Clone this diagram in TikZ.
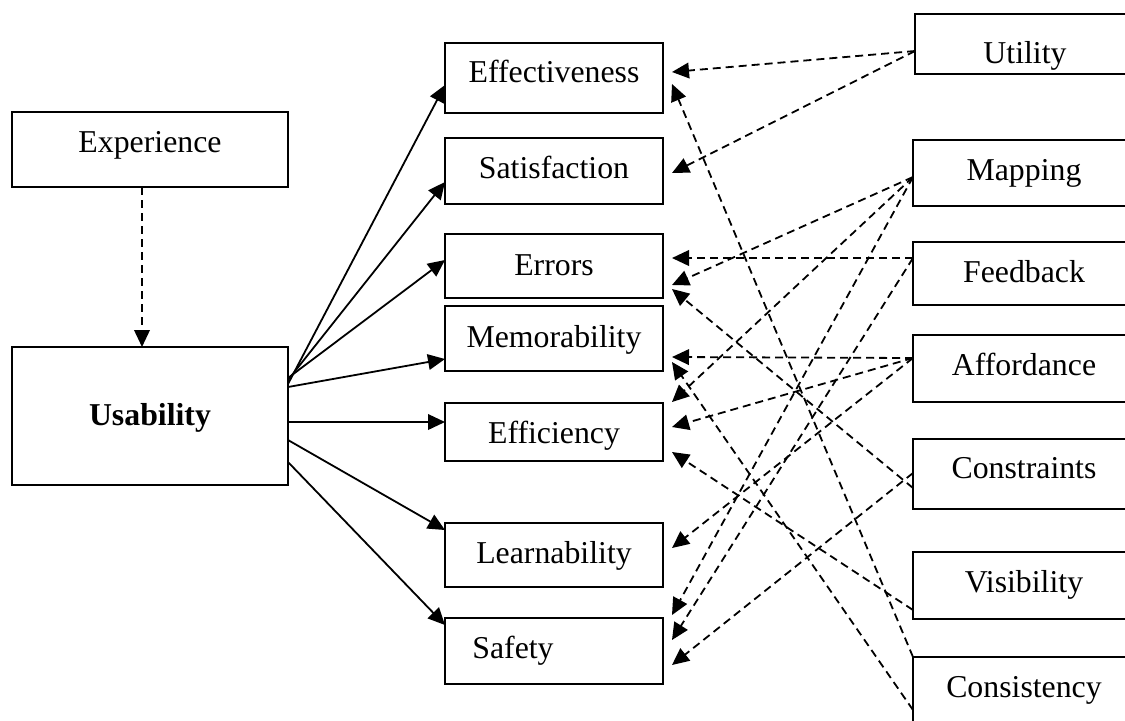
\documentclass[tikz,border=0pt]{standalone}
\usepackage{fontspec}
\setmainfont{Liberation Serif}
\usetikzlibrary{arrows.meta,calc}
\begin{document}
\begin{tikzpicture}[x=0.5pt,y=-0.5pt,
  box/.style={draw,line width=1pt,inner sep=0pt,outer sep=0pt},
  midbox/.style={box,minimum width=109pt},
  rbox/.style={box,minimum width=111pt},
  lbox/.style={box,minimum width=138pt},
  txt/.style={anchor=base,inner sep=0pt,font=\fontsize{15.9}{19}\selectfont},
  solidarr/.style={-{Triangle[length=8.5pt,width=7.8pt]},line width=0.9pt},
  dasharr/.style={solidarr,dash pattern=on 4pt off 2.5pt}]
\useasboundingbox (0,0) rectangle (1125,720);
\clip (0,0) rectangle (1125,720);

% left boxes
\node[lbox,minimum height=37.5pt] (exp) at (150,149.5) {};
\node[lbox,minimum height=69pt] (usab) at (150,416) {};
\node[txt] (expT) at (150,152) {Experience};
\node[txt] (usabT) at (150,425) {\bfseries Usability};

% middle boxes
\node[midbox,minimum height=35pt] (eff) at (554,78) {};
\node[midbox,minimum height=33pt] (sat) at (554,171) {};
\node[midbox,minimum height=32pt] (err) at (554,266) {};
\node[midbox,minimum height=32.5pt] (mem) at (554,338.5) {};
\node[midbox,minimum height=29pt] (effic) at (554,432) {};
\node[midbox,minimum height=32pt] (learn) at (554,555) {};
\node[midbox,minimum height=33pt] (safe) at (554,651) {};
\node[txt] (effT) at (554,82) {Effectiveness};
\node[txt] (satT) at (554,178) {Satisfaction};
\node[txt] (errT) at (554,275) {Errors};
\node[txt] (memT) at (554,347) {Memorability};
\node[txt] (efficT) at (554,443) {Efficiency};
\node[txt] (learnT) at (554,563) {Learnability};
\node[txt] (safeT) at (513,658) {Safety};

% right boxes
\node[rbox,minimum height=30pt] (util) at (1026,44) {};
\node[rbox,minimum height=33pt] (map) at (1024,173) {};
\node[rbox,minimum height=31.5pt] (feed) at (1024,273.5) {};
\node[rbox,minimum height=33.5pt] (aff) at (1024,368.5) {};
\node[rbox,minimum height=35pt] (constr) at (1024,474) {};
\node[rbox,minimum height=33.5pt] (vis) at (1024,585.5) {};
\node[rbox,minimum height=35pt] (cons) at (1024,692) {};
\node[txt] (utilT) at (1025,63) {Utility};
\node[txt] (mapT) at (1024,180) {Mapping};
\node[txt] (feedT) at (1024,282) {Feedback};
\node[txt] (affT) at (1024,375) {Affordance};
\node[txt] (constrT) at (1024,478) {Constraints};
\node[txt] (visT) at (1024,592) {Visibility};
\node[txt] (consT) at (1024,697) {Consistency};

% experience -> usability
\draw[dasharr] ($(exp.south)+(-8,0)$) -- ($(usab.north)+(-8,0)$);

% usability -> middle
\draw[solidarr] ($(usab.east)+(0,-32)$) -- ($(eff.west)+(0,7)$);
\draw[solidarr] ($(usab.east)+(0,-36)$) -- ($(sat.west)+(0,11)$);
\draw[solidarr] ($(usab.east)+(0,-38)$) -- ($(err.west)+(0,-6)$);
\draw[solidarr] ($(usab.east)+(0,-29)$) -- ($(mem.west)+(0,20.5)$);
\draw[solidarr] ($(usab.east)+(0,6)$) -- ($(effic.west)+(0,-10)$);
\draw[solidarr] ($(usab.east)+(0,24)$) -- ($(learn.west)+(0,-25)$);
\draw[solidarr] ($(usab.east)+(0,46)$) -- ($(safe.west)+(0,-26)$);

% right -> middle (dashed)
\draw[dasharr] ($(util.west)+(0,7)$) -- ($(eff.east)+(9,-6)$);
\draw[dasharr] ($(util.west)+(0,7)$) -- ($(sat.east)+(9,2)$);
\draw[dasharr] (cons.north west) -- ($(eff.east)+(9,6)$);
\draw[dasharr] ($(map.west)+(0,4)$) -- ($(err.east)+(9,19)$);
\draw[dasharr] ($(feed.west)+(0,-15.5)$) -- ($(err.east)+(9,-8)$);
\draw[dasharr] ($(constr.west)+(0,14)$) -- ($(err.east)+(9,23)$);
\draw[dasharr] ($(aff.west)+(0,-10.5)$) -- ($(mem.east)+(9,18.5)$);
\draw[dasharr] ($(cons.west)+(0,18)$) -- ($(mem.east)+(9,23.5)$);
\draw[dasharr] ($(map.west)+(0,4)$) -- ($(effic.east)+(9,-30)$);
\draw[dasharr] ($(aff.west)+(0,-10.5)$) -- ($(effic.east)+(9,-5)$);
\draw[dasharr] ($(vis.west)+(0,24.5)$) -- ($(effic.east)+(9,20)$);
\draw[dasharr] ($(aff.west)+(0,-10.5)$) -- ($(learn.east)+(9,-7)$);
\draw[dasharr] ($(map.west)+(0,4)$) -- ($(safe.east)+(9,-36)$);
\draw[dasharr] ($(feed.west)+(0,-15.5)$) -- ($(safe.east)+(9,-11)$);
\draw[dasharr] ($(constr.west)+(0,-1)$) -- ($(safe.east)+(9,14)$);
\end{tikzpicture}
\end{document}
